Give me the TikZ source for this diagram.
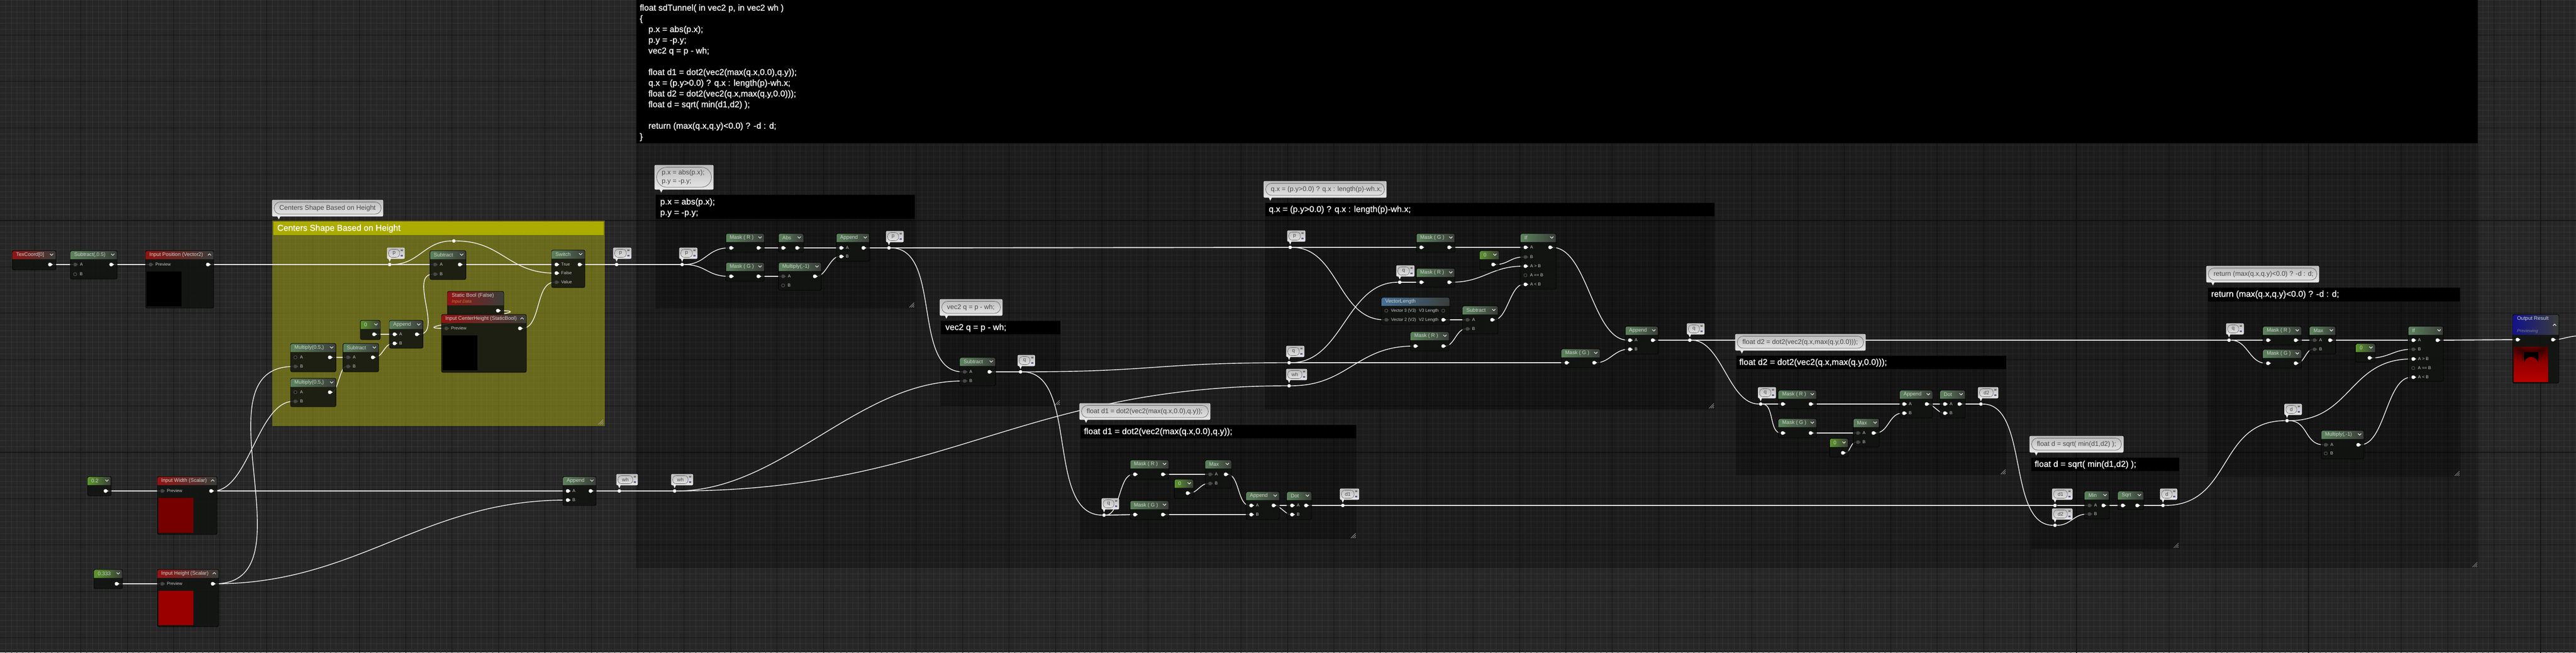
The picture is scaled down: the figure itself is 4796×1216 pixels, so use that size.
\documentclass[tikz,border=0pt]{standalone}
\usepackage{fontspec}
\setmainfont{Liberation Sans}
\newfontfamily\cmtfont[FakeBold=0.7]{Liberation Sans}
\usetikzlibrary{positioning}
\definecolor{bggrid}{RGB}{38,38,38}
\definecolor{gridminor}{RGB}{51,51,51}
\definecolor{gridmajor}{RGB}{22,22,22}
\definecolor{funcgreen}{RGB}{92,130,92}
\definecolor{valgreen}{RGB}{92,150,44}
\definecolor{inputred}{RGB}{145,20,20}
\definecolor{lenblue}{RGB}{70,112,150}
\definecolor{outblue}{RGB}{18,18,140}
\definecolor{headend}{RGB}{58,62,58}
\definecolor{olivehead}{RGB}{172,172,0}
\definecolor{olivebody}{RGB}{172,172,22}
\definecolor{bodydark}{RGB}{17,19,17}
\definecolor{titlegrey}{RGB}{205,212,205}
\definecolor{bubbletop}{RGB}{186,186,186}
\definecolor{bubblebot}{RGB}{232,232,232}
\definecolor{prevwidth}{RGB}{117,0,0}
\definecolor{prevheight}{RGB}{153,0,0}
\pgfdeclarelayer{backdrop}
\pgfdeclarelayer{wires}
\pgfsetlayers{backdrop,wires,main}
\tikzset{
	nodebody/.style={fill=bodydark,fill opacity=0.86,draw=black,line width=0.8pt,rounded corners=3pt},
	nodetitle/.style={anchor=west,inner sep=0pt,text=titlegrey,font=\fontsize{9.6}{11}\selectfont},
	chevron/.style={draw=white,line width=1pt},
	pinwhite/.style={circle,fill=white,inner sep=0pt,minimum size=7pt},
	pingrey/.style={circle,fill=black!72!white,inner sep=0pt,minimum size=7pt},
	pinhollow/.style={circle,draw=black!65!white,line width=0.9pt,fill=bodydark,inner sep=0pt,minimum size=6pt},
	reroutepin/.style={circle,fill=white,inner sep=0pt,minimum size=6.5pt},
	pinlabel/.style={inner sep=0pt,text=white!80!black,font=\fontsize{8}{9}\selectfont},
	wire/.style={draw=white!94!black,line width=1.4pt},
	wirestr/.style={draw=white!90!black,line width=1.9pt},
	commentbody/.style={fill=black,fill opacity=0.25},
	commenttitle/.style={anchor=west,inner sep=0pt,text=white,align=left,font=\cmtfont\fontsize{16}{20}\selectfont},
	bubblefill/.style={top color=bubbletop,bottom color=bubblebot,draw=white!92!black,line width=0.9pt,rounded corners=2pt},
	bubbletext/.style={inner sep=0pt,text=black!72!white,font=\fontsize{12.5}{15.5}\selectfont},
	rerouteletter/.style={inner sep=0pt,text=black!72!white,font=\fontsize{9.5}{11}\selectfont},
	grip/.style={draw=white!62!black,line width=0.8pt},
	x=1pt,y=-1pt
}
% name, x0, y0, x1, y1, title %
\newcommand{\nodeframe}[7][funcgreen]{
	\filldraw[nodebody] (#3,#4) rectangle (#5,#6);
	\shade[left color=#1,right color=headend] [sharp corners] (#3+0.5,#4+16) [rounded corners=3pt] -- (#3+0.5,#4+0.5) -- (#5-0.5,#4+0.5) [sharp corners] -- (#5-0.5,#4+16) -- cycle;
	\node[nodetitle] (#2) at (#3+7,#4+8.5) {#7};
}
\newcommand{\matnode}[7][funcgreen]{
	\nodeframe[#1]{#2}{#3}{#4}{#5}{#6}{#7}
	\draw[chevron] (#5-11,#4+6) -- (#5-8,#4+9) -- (#5-5,#4+6);
}
\newcommand{\inputnode}[7][inputred]{
	\nodeframe[#1]{#2}{#3}{#4}{#5}{#6}{#7}
	\draw[chevron] (#5-11,#4+9) -- (#5-8,#4+6) -- (#5-5,#4+9);
}
\newcommand{\pinon}[3]{
	\fill[white] (#2+3,#3-1.6) -- (#2+5.5,#3) -- (#2+3,#3+1.6) -- cycle;
	\node[pinwhite] (#1) at (#2,#3) {};
}
\newcommand{\pinoff}[3]{
	\fill[black!72!white] (#2+3,#3-1.6) -- (#2+5.5,#3) -- (#2+3,#3+1.6) -- cycle;
	\node[pingrey] (#1) at (#2,#3) {};
}
\newcommand{\pinopen}[3]{
	\node[pinhollow] (#1) at (#2,#3) {};
}
\newcommand{\plabel}[2]{\node[pinlabel,right=5pt of #1] (#1-l) {#2};}
\newcommand{\plabelleft}[2]{\node[pinlabel,left=5pt of #1] (#1-l) {#2};}
% name, pin x, pin y, bubble x0, bubble x1, text %
\newcommand{\reroute}[6]{
	\shadedraw[bubblefill] (#4,#3-31) rectangle (#5,#3-11);
	\draw[draw=black!62!white,line width=0.6pt,rounded corners=6.5pt] (#4+2.5,#3-28.5) rectangle (#5-9,#3-13.5);
	\node[rerouteletter] (#1-t) at ({(#4+#5-6.5)/2},#3-21) {#6};
	\fill[black!55!white] (#5-7,#3-28) rectangle (#5-3,#3-25);
	\fill[blue!25!gray] (#5-7,#3-18) rectangle (#5-3,#3-15);
	\fill[white!92!black] (#2-2.5,#3-11) -- (#2+2.5,#3-11) -- (#2,#3-5) -- cycle;
	\node[reroutepin] (#1) at (#2,#3) {};
}
% name, x0, y0, x1, y1, text %
\newcommand{\bubble}[7][11]{
	\shadedraw[bubblefill] (#3,#4) rectangle (#5,#6);
	\draw[draw=black!62!white,line width=0.7pt,rounded corners=#1pt] (#3+3.5,#4+3.5) rectangle (#5-3.5,#6-4);
	\fill[white!92!black] (#3+9,#6) -- (#3+15,#6) -- (#3+12,#6+6) -- cycle;
	\node[bubbletext,anchor=west,align=left] (#2) at (#3+13,{(#4+#6)/2}) {#7};
}
\newcommand{\grip}[2]{
	\draw[grip] (#1-2,#2-11) -- (#1-11,#2-2) (#1-2,#2-7.5) -- (#1-7.5,#2-2) (#1-2,#2-4) -- (#1-4,#2-2);
}
% x0, y0, x1, y1, bottom of the header %
\newcommand{\commentbox}[5]{
	\fill[commentbody] (#1,#2) rectangle (#3,#4);
	\fill[black] (#1+1,#2) rectangle (#3-1,#5);
	\grip{#3}{#4}
}
\newcommand{\wire}[3]{\draw[wire] (#1) .. controls +(#3,0) and +(-#3,0) .. (#2);}
\newcommand{\wirestr}[2]{\draw[wirestr] (#1) -- (#2);}
\begin{document}
\begin{tikzpicture}
	\useasboundingbox (0,0) rectangle (4796,1216);
	\begin{pgfonlayer}{backdrop}
	% Grille %
	\fill[bggrid] (0,0) rectangle (4796,1216);
	\draw[gridminor,line width=0.9pt,step=10.8pt,shift={(10.3pt,-0.6pt)}] (-20,1240) grid (4820,-20);
	\draw[gridmajor,line width=1.1pt,step=86.4pt,shift={(64.3pt,-65.4pt)}] (-100,1240) grid (4820,-100);
	% Commentaire general %
	\commentbox{1184}{0}{4614}{1059}{267}
	\node[commenttitle,anchor=north west] (cmtalltext) at (1191,8) {float sdTunnel( in vec2 p, in vec2 wh )\\
		\{\\
		\hspace{16pt}p.x = abs(p.x);\\
		\hspace{16pt}p.y = -p.y;\\
		\hspace{16pt}vec2 q = p - wh;\\
		\mbox{}\\
		\hspace{16pt}float d1 = dot2(vec2(max(q.x,0.0),q.y));\\
		\hspace{16pt}q.x = (p.y>0.0) ? q.x : length(p)-wh.x;\\
		\hspace{16pt}float d2 = dot2(vec2(q.x,max(q.y,0.0)));\\
		\hspace{16pt}float d = sqrt( min(d1,d2) );\\
		\mbox{}\\
		\hspace{16pt}return (max(q.x,q.y)<0.0) ? -d : d;\\
		\}};
	% Commentaire jaune %
	\fill[olivebody,fill opacity=0.5] (507,411) rectangle (1125.5,794);
	\fill[olivehead] (509,413) rectangle (1123.5,438);
	\node[commenttitle,text=white] (cmtcenter) at (516,426) {Centers Shape Based on Height};
	\grip{1125}{793}
	% Commentaires des etapes %
	\commentbox{1220}{363}{1704}{575}{408}
	\node[commenttitle] (cmtabstext) at (1229,387) {p.x = abs(p.x);\\p.y = -p.y;};
	\commentbox{1751}{598}{1975}{757}{623}
	\node[commenttitle] (cmtqtext) at (1760,611) {vec2 q = p - wh;};
	\commentbox{2011}{792}{2526}{1005}{817}
	\node[commenttitle] (cmtdonetext) at (2018,805) {float d1 = dot2(vec2(max(q.x,0.0),q.y));};
	\commentbox{2355}{378}{3193}{763}{403}
	\node[commenttitle] (cmtqxtext) at (2362,391) {q.x = (p.y>0.0) ? q.x : length(p)-wh.x;};
	\commentbox{3232}{663}{3736}{886}{688}
	\node[commenttitle] (cmtdtwotext) at (3238,676) {float d2 = dot2(vec2(q.x,max(q.y,0.0)));};
	\commentbox{3781}{853}{4058}{1023}{878}
	\node[commenttitle] (cmtdtext) at (3788,866) {float d = sqrt( min(d1,d2) );};
	\commentbox{4110}{536}{4581}{889}{562}
	\node[commenttitle] (cmtrettext) at (4116.5,549) {return (max(q.x,q.y)<0.0) ? -d : d;};
	\end{pgfonlayer}
	% Bulles %
	\bubble{bubcenter}{507}{373}{713}{403}{Centers Shape Based on Height}
	\bubble[19]{bubabs}{1219}{308}{1328}{353}{p.x = abs(p.x);\\p.y = -p.y;}
	\bubble{bubq}{1750}{558}{1866}{588}{vec2 q = p - wh;}
	\bubble{bubdone}{2010}{752}{2253}{782}{float d1 = dot2(vec2(max(q.x,0.0),q.y));}
	\bubble{bubqx}{2353}{338}{2581}{368}{q.x = (p.y>0.0) ? q.x : length(p)-wh.x;}
	\bubble{bubdtwo}{3231}{623}{3473}{653}{float d2 = dot2(vec2(q.x,max(q.y,0.0)));}
	\bubble{bubd}{3779}{813}{3953}{843}{float d = sqrt( min(d1,d2) );}
	\bubble{bubret}{4108}{496}{4317}{526}{return (max(q.x,q.y)<0.0) ? -d : d;}
	% Entrees %
	\matnode[inputred]{texc}{23}{467}{104}{503}{TexCoord[0]}
	\pinon{texco}{93}{493}
	\matnode{subc}{131}{467}{218}{520}{Subtract(,0.5)}
	\pinoff{subca}{140}{493} \plabel{subca}{A}
	\pinopen{subcb}{140}{511} \plabel{subcb}{B}
	\pinon{subco}{207}{493}
	\inputnode{inpos}{271}{467}{398}{574}{Input Position (Vector2)}
	\pinoff{inposp}{280.5}{493} \plabel{inposp}{Preview}
	\pinon{inposo}{387}{493}
	\fill[black] (273,506) rectangle (338,571);
	\matnode[valgreen]{valw}{163}{888}{207}{924}{0.2}
	\pinon{valwo}{196.5}{915}
	\inputnode{inw}{293}{888}{404}{996}{Input Width (Scalar)}
	\pinoff{inwp}{302}{915} \plabel{inwp}{Preview}
	\pinon{inwo}{393}{915}
	\fill[prevwidth] (295,928) rectangle (360,993);
	\matnode[valgreen]{valh}{175}{1061}{228}{1097}{0.333}
	\pinon{valho}{217}{1088}
	\inputnode{inh}{293}{1061}{407}{1168}{Input Height (Scalar)}
	\pinoff{inhp}{302}{1088} \plabel{inhp}{Preview}
	\pinon{inho}{396}{1088}
	\fill[prevheight] (295,1101) rectangle (360,1165);
	\matnode{appwh}{1048}{888}{1110}{942}{Append}
	\pinon{appwha}{1057}{915} \plabel{appwha}{A}
	\pinon{appwhb}{1057}{932} \plabel{appwhb}{B}
	\pinon{appwho}{1099.5}{915}
	\reroute{rwhone}{1153}{915}{1148}{1187}{wh}
	\reroute{rwhtwo}{1256}{915}{1250}{1290}{wh}
	% Noeuds Centers Shape %
	\reroute{rpone}{725.5}{493}{721}{753}{p}
	\node[reroutepin] (rptop) at (845,449) {};
	\matnode{subctr}{800.5}{467}{867.5}{521}{Subtract}
	\pinoff{subctra}{810}{493} \plabel{subctra}{A}
	\pinoff{subctrb}{810}{511} \plabel{subctrb}{B}
	\pinon{subctro}{856}{493}
	\matnode{switch}{1027}{466}{1089}{536}{Switch}
	\pinon{switcht}{1036}{493} \plabel{switcht}{True}
	\pinon{switchf}{1036}{509} \plabel{switchf}{False}
	\pinoff{switchv}{1036}{526} \plabel{switchv}{Value}
	\pinon{switcho}{1079}{493}
	\reroute{rptwo}{1148}{493}{1142}{1175}{p}
	\matnode[valgreen]{valz}{671}{597}{708}{633}{0}
	\pinon{valzo}{696.5}{623}
	\matnode{appc}{725}{597}{787.5}{649}{Append}
	\pinon{appca}{734.5}{623} \plabel{appca}{A}
	\pinon{appcb}{734.5}{640} \plabel{appcb}{B}
	\pinon{appco}{776}{623}
	\matnode{mulone}{541}{640}{625.5}{693}{Multiply(0.5,)}
	\pinopen{mulonea}{550}{666} \plabel{mulonea}{A}
	\pinoff{muloneb}{550}{683} \plabel{muloneb}{B}
	\pinon{muloneo}{614}{666}
	\matnode{subsm}{638.5}{640}{705}{693}{Subtract}
	\pinoff{subsma}{648}{666} \plabel{subsma}{A}
	\pinoff{subsmb}{648}{683} \plabel{subsmb}{B}
	\pinon{subsmo}{694}{666}
	\matnode{multwo}{541}{705}{625.5}{758}{Multiply(0.5,)}
	\pinopen{multwoa}{550}{731} \plabel{multwoa}{A}
	\pinoff{multwob}{550}{748} \plabel{multwob}{B}
	\pinon{multwoo}{614}{731}
	\filldraw[nodebody] (833,543) rectangle (938,600);
	\shade[left color=inputred,right color=headend] [sharp corners] (833.5,569) [rounded corners=3pt] -- (833.5,543.5) -- (937.5,543.5) [sharp corners] -- (937.5,569) -- cycle;
	\node[nodetitle] (sbool) at (841,551) {Static Bool (False)};
	\node[nodetitle,text=orange!55!gray,font=\fontsize{8}{9}\selectfont\itshape] (sboolsub) at (841,562.5) {Input Data};
	\pinon{sboolo}{927}{579}
	\inputnode{inctr}{822}{586}{980}{694}{Input CenterHeight (StaticBool)}
	\pinoff{inctrp}{831}{612} \plabel{inctrp}{Preview}
	\pinon{inctro}{968}{612}
	\fill[black] (824,625) rectangle (889,690);
	% Noeuds p.x %
	\reroute{rpthree}{1270}{493}{1265}{1298}{p}
	\matnode{maskxr}{1351.5}{435}{1423}{470}{Mask ( R )}
	\pinon{maskxri}{1361}{462} \pinon{maskxro}{1412}{462}
	\matnode{maskxg}{1351.5}{489}{1423}{524}{Mask ( G )}
	\pinon{maskxgi}{1361}{515} \pinon{maskxgo}{1412}{515}
	\matnode{absx}{1449.5}{435}{1496}{470}{Abs}
	\pinon{absxi}{1458}{462} \pinon{absxo}{1484}{462}
	\matnode{mulx}{1449.5}{489}{1529}{541}{Multiply(,-1)}
	\pinoff{mulxa}{1458}{515} \plabel{mulxa}{A}
	\pinopen{mulxb}{1458}{532} \plabel{mulxb}{B}
	\pinon{mulxo}{1517}{515}
	\matnode{appx}{1557}{435}{1619}{487}{Append}
	\pinon{appxa}{1566}{462} \plabel{appxa}{A}
	\pinon{appxb}{1566}{478} \plabel{appxb}{B}
	\pinon{appxo}{1607.5}{462}
	\reroute{rpfour}{1655}{462}{1650}{1682}{p}
	% Noeuds vec2 q %
	\matnode{subq}{1787}{666}{1853.5}{719}{Subtract}
	\pinoff{subqa}{1796}{693} \plabel{subqa}{A}
	\pinoff{subqb}{1796}{710} \plabel{subqb}{B}
	\pinon{subqo}{1842}{693}
	\reroute{rqone}{1900}{693}{1895}{1926.5}{q}
	% Noeuds d1 %
	\reroute{rqtwo}{2055.5}{960}{2051.5}{2083}{q}
	\matnode{maskar}{2104}{857}{2176}{893}{Mask ( R )}
	\pinon{maskari}{2113}{884} \pinon{maskaro}{2165}{884}
	\matnode{maskag}{2104}{933}{2176}{968}{Mask ( G )}
	\pinon{maskagi}{2113}{959} \pinon{maskago}{2165}{959}
	\matnode[valgreen]{valda}{2186.5}{893}{2222}{929}{0}
	\pinon{valdao}{2211}{919}
	\matnode{maxa}{2244}{857}{2293}{910}{Max}
	\pinoff{maxaa}{2253}{884} \plabel{maxaa}{A}
	\pinoff{maxab}{2253}{901} \plabel{maxab}{B}
	\pinon{maxao}{2282}{884}
	\matnode{appa}{2320}{916}{2382}{968}{Append}
	\pinon{appaa}{2329.5}{942} \plabel{appaa}{A}
	\pinon{appab}{2329.5}{959} \plabel{appab}{B}
	\pinon{appao}{2371}{942}
	\matnode{dota}{2396}{916}{2442}{968}{Dot}
	\pinon{dotaa}{2405.5}{942} \plabel{dotaa}{A}
	\pinon{dotab}{2405.5}{959} \plabel{dotab}{B}
	\pinon{dotao}{2431.5}{942}
	\reroute{rdone}{2500}{942}{2495}{2530}{d1}
	% Noeuds q.x %
	\reroute{rpfive}{2402}{461}{2397}{2430}{p}
	\reroute{rqthree}{2400}{676}{2395}{2428}{q}
	\reroute{rwhthree}{2400}{719}{2395}{2433}{wh}
	\matnode{maskqg}{2637}{435}{2709}{470}{Mask ( G )}
	\pinon{maskqgi}{2646}{461} \pinon{maskqgo}{2698}{461}
	\matnode{ifq}{2831}{435}{2897}{539}{If}
	\pinon{ifqa}{2840}{461} \plabel{ifqa}{A}
	\pinoff{ifqb}{2840}{479} \plabel{ifqb}{B}
	\pinon{ifqgt}{2840}{496} \plabel{ifqgt}{A > B}
	\pinopen{ifqeq}{2840}{513} \plabel{ifqeq}{A == B}
	\pinon{ifqlt}{2840}{530} \plabel{ifqlt}{A < B}
	\pinon{ifqo}{2886}{461}
	\matnode[valgreen]{valq}{2755}{467}{2791}{503}{0}
	\pinon{valqo}{2780}{493}
	\reroute{rqfour}{2606}{526}{2600}{2633}{q}
	\matnode{maskqr}{2637}{500}{2709}{535}{Mask ( R )}
	\pinon{maskqri}{2646}{526} \pinon{maskqro}{2698}{526}
	\nodeframe[lenblue]{veclen}{2572}{554}{2699}{605}{VectorLength}
	\pinopen{veclenvt}{2581}{579} \plabel{veclenvt}{Vector 3 (V3)}
	\pinoff{veclenvd}{2581}{596} \plabel{veclenvd}{Vector 2 (V2)}
	\pinopen{veclenot}{2687}{579} \plabelleft{veclenot}{V3 Length}
	\pinon{veclenod}{2687}{596} \plabelleft{veclenod}{V2 Length}
	\matnode{subqx}{2723}{570}{2789}{622}{Subtract}
	\pinoff{subqxa}{2732}{596} \plabel{subqxa}{A}
	\pinoff{subqxb}{2732}{613} \plabel{subqxb}{B}
	\pinon{subqxo}{2778}{596}
	\matnode{maskwr}{2626}{618}{2698}{654}{Mask ( R )}
	\pinon{maskwri}{2635}{645} \pinon{maskwro}{2687}{645}
	\matnode{maskqh}{2907}{650}{2979}{685}{Mask ( G )}
	\pinon{maskqhi}{2916.5}{676} \pinon{maskqho}{2968}{676}
	\matnode{appq}{3026}{608}{3087}{660}{Append}
	\pinon{appqa}{3034.5}{634} \plabel{appqa}{A}
	\pinon{appqb}{3034.5}{651} \plabel{appqb}{B}
	\pinon{appqo}{3077}{634}
	\reroute{rqfive}{3146}{634}{3141}{3173}{q}
	% Noeuds d2 %
	\reroute{rqsix}{3278}{753}{3273.5}{3306}{q}
	\matnode{maskbr}{3311}{727}{3382}{762}{Mask ( R )}
	\pinon{maskbri}{3319}{753} \pinon{maskbro}{3371}{753}
	\matnode{maskbg}{3311}{780}{3382}{816}{Mask ( G )}
	\pinon{maskbgi}{3319}{807} \pinon{maskbgo}{3371}{807}
	\matnode{maxb}{3450.5}{780}{3499}{833}{Max}
	\pinoff{maxba}{3459}{807} \plabel{maxba}{A}
	\pinoff{maxbb}{3459}{824} \plabel{maxbb}{B}
	\pinon{maxbo}{3488}{807}
	\matnode[valgreen]{valdb}{3406.5}{817}{3441}{852}{0}
	\pinon{valdbo}{3431}{844}
	\matnode{appb}{3537}{727}{3598}{779}{Append}
	\pinon{appba}{3545}{753} \plabel{appba}{A}
	\pinon{appbb}{3545}{770} \plabel{appbb}{B}
	\pinon{appbo}{3587}{753}
	\matnode{dotb}{3612}{727}{3659}{779}{Dot}
	\pinon{dotba}{3621}{753} \plabel{dotba}{A}
	\pinon{dotbb}{3621}{770} \plabel{dotbb}{B}
	\pinon{dotbo}{3648}{753}
	\reroute{rdtwo}{3688}{753}{3683}{3720}{d2}
	% Noeuds d %
	\reroute{rdthree}{3826}{942}{3821}{3858}{d1}
	\reroute{rdfour}{3826}{979}{3821}{3858}{d2}
	\matnode{minn}{3881}{915}{3927}{967}{Min}
	\pinoff{minna}{3890}{942} \plabel{minna}{A}
	\pinoff{minnb}{3890}{958} \plabel{minnb}{B}
	\pinon{minno}{3916}{942}
	\matnode{sqrtn}{3943}{915}{3991}{950}{Sqrt}
	\pinon{sqrtni}{3952}{942} \pinon{sqrtno}{3979}{942}
	\reroute{rdfive}{4027}{942}{4022}{4053}{d}
	% Noeuds return %
	\reroute{rqseven}{4150}{634}{4145}{4177}{q}
	\matnode{maskcr}{4213}{608}{4285}{643}{Mask ( R )}
	\pinon{maskcri}{4222.5}{634} \pinon{maskcro}{4274}{634}
	\matnode{maskcg}{4213}{651}{4285}{686}{Mask ( G )}
	\pinon{maskcgi}{4222.5}{677} \pinon{maskcgo}{4274}{677}
	\matnode{maxc}{4300}{608}{4348.5}{660}{Max}
	\pinoff{maxca}{4309}{634} \plabel{maxca}{A}
	\pinoff{maxcb}{4309}{651} \plabel{maxcb}{B}
	\pinon{maxco}{4338}{634}
	\matnode[valgreen]{valc}{4386}{640}{4422}{675}{0}
	\pinon{valco}{4411.5}{667}
	\matnode{ifc}{4483.5}{608}{4549}{711}{If}
	\pinon{ifca}{4493}{634} \plabel{ifca}{A}
	\pinoff{ifcb}{4493}{651} \plabel{ifcb}{B}
	\pinon{ifcgt}{4493}{669} \plabel{ifcgt}{A > B}
	\pinopen{ifceq}{4493}{686} \plabel{ifceq}{A == B}
	\pinon{ifclt}{4493}{703} \plabel{ifclt}{A < B}
	\pinon{ifco}{4538}{634}
	\reroute{rdsix}{4258}{784}{4253.5}{4285}{d}
	\matnode{mulc}{4321.5}{802}{4401}{855}{Multiply(,-1)}
	\pinoff{mulca}{4330}{829} \plabel{mulca}{A}
	\pinopen{mulcb}{4330}{845} \plabel{mulcb}{B}
	\pinon{mulco}{4390.5}{829}
	% Sortie %
	\filldraw[nodebody] (4678,586) rectangle (4764,714);
	\shade[left color=outblue,right color=headend] [sharp corners] (4678.5,624) [rounded corners=3pt] -- (4678.5,586.5) -- (4763.5,586.5) [sharp corners] -- (4763.5,624) -- cycle;
	\node[nodetitle] (outres) at (4686,594) {Output Result};
	\node[nodetitle,text=gray,font=\fontsize{8}{9}\selectfont\itshape] (outressub) at (4686,617) {Previewing};
	\draw[chevron] (4753,607) -- (4756,604) -- (4759,607);
	\pinon{outresi}{4687}{633} \pinon{outreso}{4753}{633}
	\coordinate (outend) at (4800,626);
	\begin{scope}
		\clip (4680,646) rectangle (4744,711);
		\shade[top color=red!45!black,bottom color=red!72!black] (4680,646) rectangle (4744,711);
		\foreach \r in {22,18,14,11,8,5,3}
			\fill[black,fill opacity=0.17] ({4712.5-13.5-\r},{656-0.6*\r}) -- ({4712.5-13.5-\r},678.5) arc[start angle=180,end angle=360,radius=13.5+\r] -- ({4712.5+13.5+\r},{656-0.6*\r}) -- cycle;
		\fill[black] (4699,656) -- (4699,678.5) arc[start angle=180,end angle=360,radius=13.5] -- (4726,656) -- cycle;
	\end{scope}
	% Liens %
	\begin{pgfonlayer}{wires}
		\wirestr{texco}{subca}
		\wirestr{subco}{inposp}
		\wirestr{inposo}{rpone}
		\wirestr{rpone}{subctra}
		\wire{rpone}{rptop}{55}
		\wire{rptop}{switchf}{90}
		\wirestr{subctro}{switcht}
		\wirestr{switcho}{rptwo}
		\wirestr{rptwo}{rpthree}
		\wirestr{valwo}{inwp}
		\wirestr{valho}{inhp}
		\wirestr{inwo}{appwha}
		\wire{inho}{appwhb}{270}
		\wire{inwo}{multwob}{70}
		\wire{inho}{muloneb}{190}
		\wirestr{appwho}{rwhone}
		\wirestr{rwhone}{rwhtwo}
		\wirestr{muloneo}{subsma}
		\wire{multwoo}{subsmb}{15}
		\wire{subsmo}{appcb}{18}
		\wirestr{valzo}{appca}
		\wire{appco}{subctrb}{50}
		\wire{sboolo}{inctrp}{100}
		\wire{inctro}{switchv}{40}
		\wire{rpthree}{maskxri}{45}
		\wire{rpthree}{maskxgi}{45}
		\wirestr{maskxro}{absxi}
		\wirestr{maskxgo}{mulxa}
		\wirestr{absxo}{appxa}
		\wire{mulxo}{appxb}{20}
		\wirestr{appxo}{rpfour}
		\wirestr{rpfour}{rpfive}
		\wire{rpfour}{subqa}{100}
		\wire{rwhtwo}{subqb}{200}
		\wire{rwhtwo}{rwhthree}{500}
		\wirestr{subqo}{rqone}
		\wire{rqone}{rqthree}{250}
		\wire{rqone}{rqtwo}{110}
		\wire{rqtwo}{maskari}{30}
		\wirestr{rqtwo}{maskagi}
		\wirestr{maskaro}{maxaa}
		\wire{valdao}{maxab}{18}
		\wire{maxao}{appaa}{25}
		\wirestr{maskago}{appab}
		\wirestr{appao}{dotaa}
		\wire{appao}{dotab}{10}
		\wirestr{dotao}{rdone}
		\wirestr{rdone}{rdthree}
		\wirestr{rpfive}{maskqgi}
		\wire{rpfive}{veclenvd}{90}
		\wire{rqthree}{rqfour}{100}
		\wirestr{rqthree}{maskqhi}
		\wire{rwhthree}{maskwri}{110}
		\wirestr{rqfour}{maskqri}
		\wirestr{maskqgo}{ifqa}
		\wire{valqo}{ifqb}{28}
		\wire{maskqro}{ifqgt}{65}
		\wirestr{veclenod}{subqxa}
		\wire{maskwro}{subqxb}{20}
		\wire{subqxo}{ifqlt}{28}
		\wire{ifqo}{appqa}{70}
		\wire{maskqho}{appqb}{28}
		\wirestr{appqo}{rqfive}
		\wire{rqfive}{rqsix}{60}
		\wirestr{rqfive}{rqseven}
		\wirestr{rqsix}{maskbri}
		\wire{rqsix}{maskbgi}{25}
		\wirestr{maskbro}{appba}
		\wirestr{maskbgo}{maxba}
		\wire{valdbo}{maxbb}{14}
		\wire{maxbo}{appbb}{28}
		\wirestr{appbo}{dotba}
		\wire{appbo}{dotbb}{10}
		\wirestr{dotbo}{rdtwo}
		\wire{rdtwo}{rdfour}{90}
		\wirestr{rdthree}{minna}
		\wire{rdfour}{minnb}{30}
		\wirestr{minno}{sqrtni}
		\wirestr{sqrtno}{rdfive}
		\wire{rdfive}{rdsix}{130}
		\wirestr{rqseven}{maskcri}
		\wire{rqseven}{maskcgi}{35}
		\wirestr{maskcro}{maxca}
		\wire{maskcgo}{maxcb}{15}
		\wirestr{maxco}{ifca}
		\wire{valco}{ifcb}{35}
		\wire{rdsix}{ifcgt}{120}
		\wire{rdsix}{mulca}{40}
		\wire{mulco}{ifclt}{50}
		\wirestr{ifco}{outresi}
		\wire{outreso}{outend}{15}
	\end{pgfonlayer}
\end{tikzpicture}
\end{document}
